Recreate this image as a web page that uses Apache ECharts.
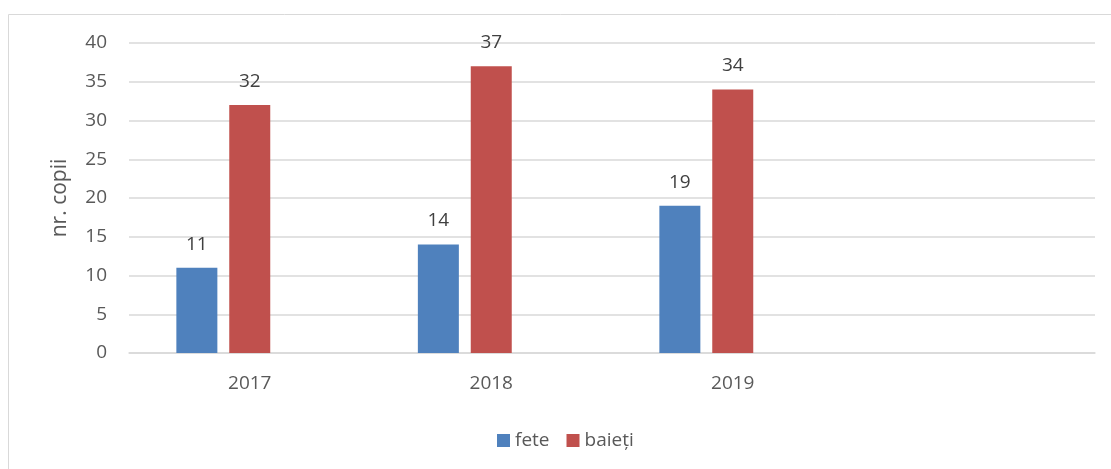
<!DOCTYPE html>
<html>
<head>
<meta charset="utf-8">
<script src="https://cdn.jsdelivr.net/npm/echarts@6/dist/echarts.min.js"></script>
<style>
  html, body { margin: 0; padding: 0; background: #ffffff; }
  #chart { width: 1111px; height: 469px; }
</style>
</head>
<body>
<div id="chart"></div>
<script>
  // date
  const categories = ['2017', '2018', '2019', ''];
  const fete = [11, 14, 19, null];
  const baieti = [32, 37, 34, null];
  const gol = [null, null, null, null]; // a treia serie goala (ca in Excel)
  const yTicks = { min: 0, max: 40, interval: 5 };

  const font = '"Open Sans", "Noto Sans", sans-serif';
  const chart = echarts.init(document.getElementById('chart'));

  const labelStyle = {
    show: true,
    position: 'top',
    distance: 14,
    color: '#404040',
    fontSize: 19,
    fontFamily: font,
  };

  chart.setOption({
    animation: false,
    textStyle: { fontFamily: font },
    // chenarul graficului
    graphic: [{
      type: 'rect',
      shape: { x: 8.5, y: 14.5, width: 1120, height: 470 },
      style: { fill: 'none', stroke: '#d9d9d9', lineWidth: 1 },
      silent: true,
    }],
    grid: {
      left: 129,
      right: 16,
      top: 43,
      bottom: 116,
      containLabel: false,
    },
    legend: {
      data: ['fete', 'baieți'],
      left: 492,
      top: 426,
      itemWidth: 13,
      itemHeight: 13,
      itemGap: 17,
      icon: 'rect',
      textStyle: { color: '#595959', fontSize: 19, fontFamily: font },
    },
    xAxis: {
      type: 'category',
      data: categories,
      axisLine: { lineStyle: { color: '#d9d9d9', width: 1.5 } },
      axisTick: { show: false },
      axisLabel: { color: '#595959', fontSize: 19, margin: 21, fontFamily: font },
    },
    yAxis: {
      type: 'value',
      min: yTicks.min,
      max: yTicks.max,
      interval: yTicks.interval,
      name: 'nr. copii',
      nameLocation: 'middle',
      nameGap: 58,
      nameRotate: 90,
      nameTextStyle: { color: '#595959', fontSize: 21, fontFamily: font },
      axisLine: { show: false },
      axisTick: { show: false },
      axisLabel: { color: '#595959', fontSize: 19, margin: 22, fontFamily: font },
      splitLine: { lineStyle: { color: '#d9d9d9', width: 1.5 } },
    },
    series: [
      {
        name: 'fete',
        type: 'bar',
        data: fete,
        barWidth: 41,
        barGap: '29%',
        itemStyle: { color: '#4f81bd' },
        label: labelStyle,
      },
      {
        name: 'baieți',
        type: 'bar',
        data: baieti,
        barWidth: 41,
        barGap: '29%',
        itemStyle: { color: '#c0504d' },
        label: labelStyle,
      },
      {
        name: 'gol',
        type: 'bar',
        data: gol,
        barWidth: 41,
        barGap: '29%',
      },
    ],
  });
</script>
</body>
</html>
